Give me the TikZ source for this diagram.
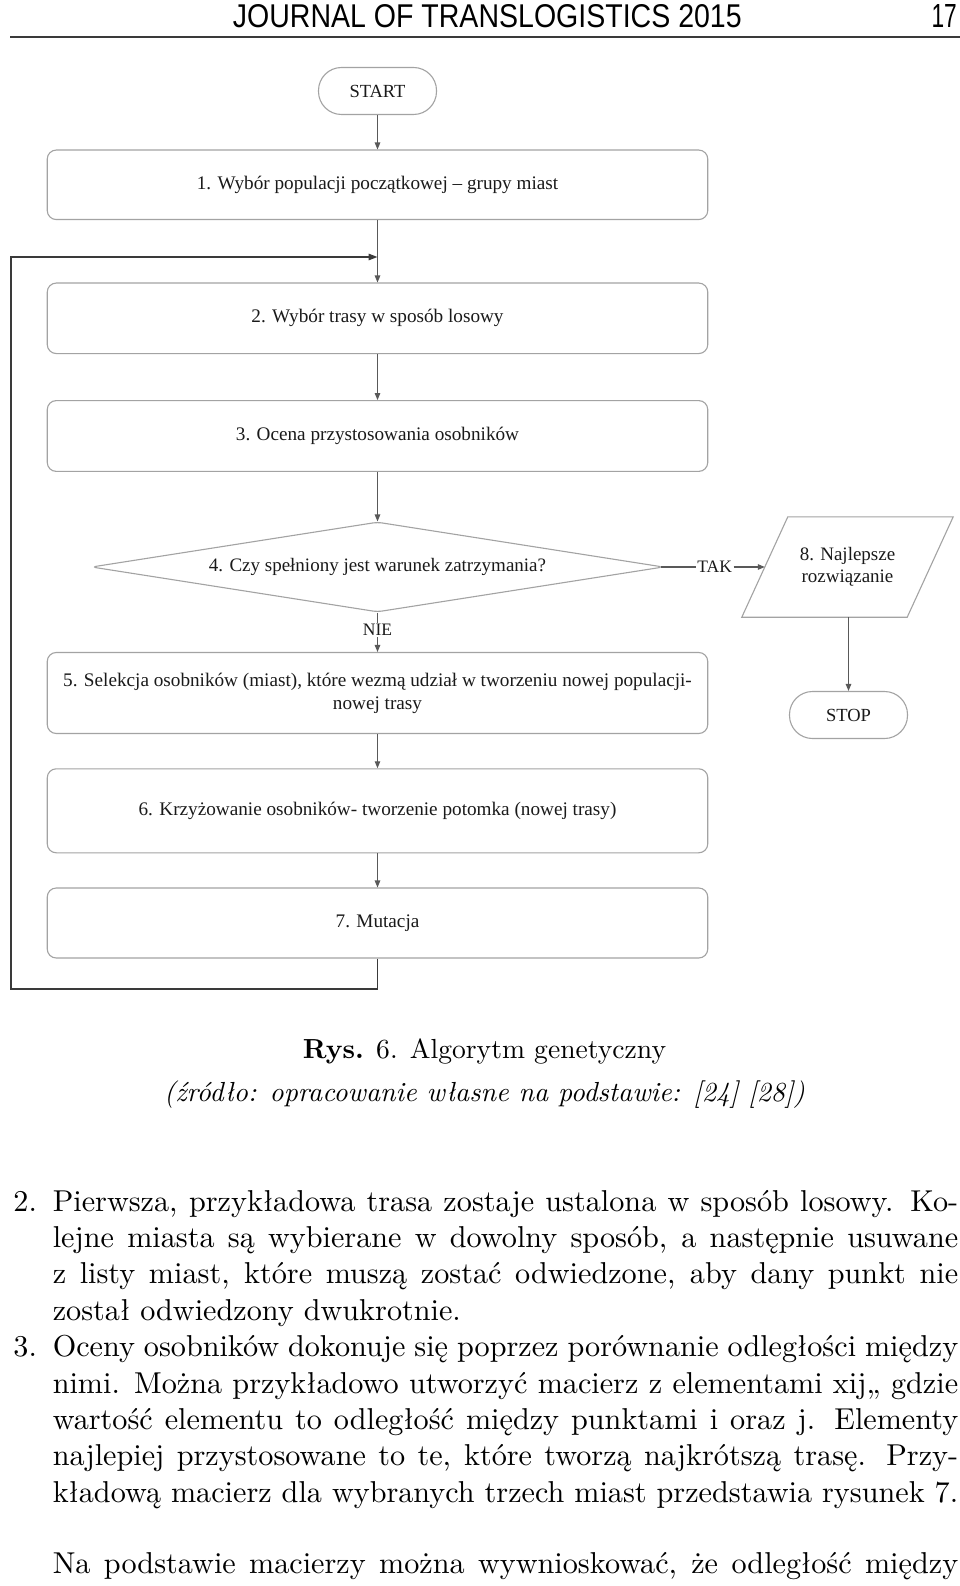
\documentclass[tikz,border=0pt]{standalone}
\usepackage{fontspec}
\usepackage{graphicx}
\usepackage{tikz}
\usetikzlibrary{shapes.geometric,arrows.meta}
\setmainfont{lmroman10}[Extension=.otf, UprightFont=*-regular, BoldFont=*-bold,
  ItalicFont=*-italic, BoldItalicFont=*-bolditalic]
\newfontfamily\boxfont{Liberation Serif}
\newfontfamily\headfont{Liberation Sans}
\definecolor{ink}{HTML}{1A1A1A}
\definecolor{frame}{HTML}{A3A3A3}
\definecolor{lead}{HTML}{595959}
\definecolor{ruleclr}{HTML}{3A3A3A}
\tikzset{
  stepbox/.style={draw=frame, line width=1.1pt, rounded corners=9pt, minimum width=660.5pt,
    inner sep=0pt, align=center, text=ink, font=\boxfont\fontsize{19.2}{23.2}\selectfont},
  pill/.style={draw=frame, line width=1.1pt, rounded corners=23pt, minimum width=118pt,
    minimum height=47pt, inner sep=0pt, text=ink, font=\boxfont\fontsize{18.5}{22}\selectfont},
  test/.style={diamond, aspect=6.36, draw=frame, line width=1.1pt, rounded corners=5pt,
    minimum width=572pt, minimum height=90pt, inner sep=0pt, text=ink,
    font=\boxfont\fontsize{19}{23.2}\selectfont},
  iobox/.style={minimum width=211pt, minimum height=100pt, inner sep=0pt, align=center,
    text=ink, font=\boxfont\fontsize{19}{22.2}\selectfont},
  slantedge/.style={draw=frame, line width=1.1pt, line join=miter},
  lab/.style={inner sep=1.5pt, text=ink, font=\boxfont\fontsize{17.5}{20}\selectfont},
  wire/.style={draw=lead, line width=1.1pt},
  arr/.style={draw=lead, line width=1.1pt, -{Triangle[length=7pt,width=5.5pt]}},
  back/.style={draw=ruleclr, line width=1.4pt, -{Triangle[length=9pt,width=6.5pt]}},
  body/.style={anchor=mid west, inner sep=0pt, font=\fontsize{30.2}{36.4}\selectfont},
  capt/.style={anchor=mid, inner sep=0pt, font=\fontsize{27.6}{33}\selectfont},
}
\begin{document}
\begin{tikzpicture}[x=1pt, y=-1pt]
  \path[use as bounding box, fill=white] (0,0) rectangle (960,1586);
  % running head
  \node[anchor=base west, inner sep=0pt] (jname) at (232.7,27.3)
    {\resizebox{508.8pt}{23pt}{\headfont JOURNAL OF TRANSLOGISTICS 2015}};
  \node[anchor=base east, inner sep=0pt] (pgno) at (957,27.3)
    {\resizebox{25.3pt}{23pt}{\headfont 17}};
  \draw[ruleclr, line width=2pt] (10,37.4) -- (960,37.4);
  % flowchart
  \node[pill] (start) at (377.5,91) {START};
  \node[stepbox, minimum height=69.5pt] (s1) at (377.5,184.8) {1. Wybór populacji początkowej – grupy miast};
  \node[stepbox, minimum height=70.5pt] (s2) at (377.5,318.3) {2. Wybór trasy w sposób losowy};
  \node[stepbox, minimum height=70.8pt] (s3) at (377.5,436) {3. Ocena przystosowania osobników};
  \node[test] (cond) at (377.5,567) {4. Czy spełniony jest warunek zatrzymania?};
  \node[lab] (tak) at (714.7,567) {TAK};
  \node[iobox] (best) at (847.5,567) {8. Najlepsze\\rozwiązanie};
  \draw[slantedge] (best.south west) -- ([xshift=46pt]best.north west) -- (best.north east)
    -- ([xshift=-46pt]best.south east) -- cycle;
  \coordinate (bestin) at ([xshift=23pt]best.west);
  \node[pill] (stop) at (848.5,715) {STOP};
  \node[lab] (nie) at (377.5,630) {NIE};
  \node[stepbox, minimum height=81pt] (s5) at (377.5,693)
    {5. Selekcja osobników (miast), które wezmą udział w tworzeniu nowej populacji-\\nowej trasy};
  \node[stepbox, minimum height=84pt] (s6) at (377.5,810.8) {6. Krzyżowanie osobników- tworzenie potomka (nowej trasy)};
  \node[stepbox, minimum height=70pt] (s7) at (377.5,923) {7. Mutacja};
  \draw[arr] (start) -- (s1);
  \draw[arr] (s1) -- (s2);
  \draw[arr] (s2) -- (s3);
  \draw[arr] (s3) -- (cond);
  \draw[wire] ([xshift=-3pt]cond.east) -- (tak);
  \draw[arr] (tak) -- (bestin);
  \draw[arr] (stop.north |- best.south) -- (stop);
  \draw[wire] (cond) -- (nie);
  \draw[arr] (nie) -- (s5);
  \draw[arr] (s5) -- (s6);
  \draw[arr] (s6) -- (s7);
  % loop back to step 2
  \coordinate (lc) at (11,989);
  \coordinate (join) at (377.5,257);
  \draw[back] (s7) |- (lc) |- (join);
  % caption
  \node[capt] (cap1) at (484.5,1056) {\textbf{Rys.} 6. Algorytm genetyczny};
  \node[capt] (cap2) at (484.5,1099.5) {\textit{(źródło: opracowanie własne na podstawie: [24] [28])}};
  % text below the figure
  \node[body] (n2) at (13.2,1209) {2.};
  \node[body] (l1) at (52.6,1209) {\makebox[905.4pt][s]{Pierwsza, przykładowa trasa zostaje ustalona w sposób losowy. Ko-}};
  \node[body] (l2) at (52.6,1245.4) {\makebox[905.4pt][s]{lejne miasta są wybierane w dowolny sposób, a następnie usuwane}};
  \node[body] (l3) at (52.6,1281.8) {\makebox[905.4pt][s]{z listy miast, które muszą zostać odwiedzone, aby dany punkt nie}};
  \node[body] (l4) at (52.6,1318.2) {został odwiedzony dwukrotnie.};
  \node[body] (n3) at (13.2,1354.6) {3.};
  \node[body] (l5) at (52.6,1354.6) {\makebox[905.4pt][s]{Oceny osobników dokonuje się poprzez porównanie odległości między}};
  \node[body] (l6) at (52.6,1391) {\makebox[905.4pt][s]{nimi. Można przykładowo utworzyć macierz z elementami xij„ gdzie}};
  \node[body] (l7) at (52.6,1427.4) {\makebox[905.4pt][s]{wartość elementu to odległość między punktami i oraz j. Elementy}};
  \node[body] (l8) at (52.6,1463.8) {\makebox[905.4pt][s]{najlepiej przystosowane to te, które tworzą najkrótszą trasę. Przy-}};
  \node[body] (l9) at (52.6,1500.2) {\makebox[905.4pt][s]{kładową macierz dla wybranych trzech miast przedstawia rysunek 7.}};
  \node[body] (l10) at (52.6,1571) {\makebox[905.4pt][s]{Na podstawie macierzy można wywnioskować, że odległość między}};
\end{tikzpicture}
\end{document}
